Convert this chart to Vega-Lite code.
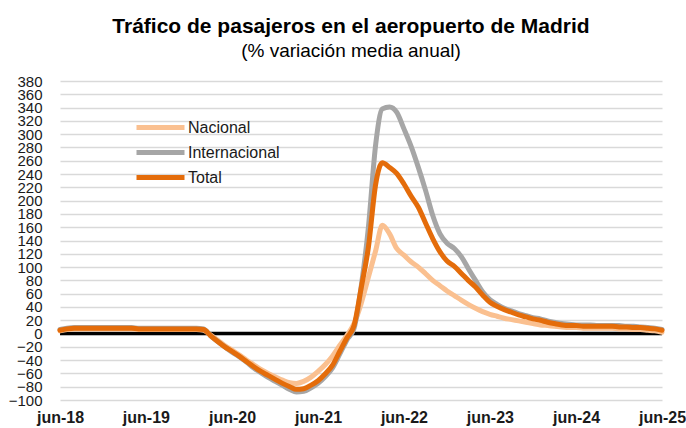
{
  "$schema": "https://vega.github.io/schema/vega-lite/v6.json",
  "width": 602,
  "height": 319,
  "autosize": {"type": "none"},
  "padding": {"left": 60, "top": 81, "right": 24, "bottom": 28},
  "background": "white",
  "title": {
    "text": "Tráfico de pasajeros en el aeropuerto de Madrid",
    "subtitle": "(% variación media anual)",
    "anchor": "middle",
    "frame": "group",
    "font": "Liberation Sans",
    "fontSize": 21,
    "fontWeight": "bold",
    "color": "#000000",
    "subtitleFont": "Liberation Sans",
    "subtitleFontSize": 19,
    "subtitleColor": "#000000",
    "subtitlePadding": 5,
    "dx": -10,
    "offset": 13
  },
  "config": {
    "view": {"stroke": null},
    "font": "Liberation Sans",
    "axisY": {
      "title": null,
      "domain": false,
      "ticks": false,
      "grid": true,
      "gridColor": "#d9d9d9",
      "gridWidth": 1.3,
      "labelPadding": 18,
      "labelFont": "Liberation Sans",
      "labelFontSize": 15,
      "labelColor": "#1a1a1a",
      "labelOverlap": false,
      "labelFlush": false,
      "labelBound": false
    }
  },
  "layer": [
    {
      "data": {"values": [{"z": 0}]},
      "mark": {"type": "rule", "color": "#000000", "strokeWidth": 3.5},
      "encoding": {
        "y": {
          "field": "z",
          "type": "quantitative",
          "scale": {"domain": [-100, 380], "nice": false},
          "axis": {
            "title": null,
            "values": [-100, -80, -60, -40, -20, 0, 20, 40, 60, 80, 100, 120, 140, 160, 180, 200, 220, 240, 260, 280, 300, 320, 340, 360, 380],
            "labelOverlap": false
          }
        }
      }
    },
    {
      "data": {
        "values": [
          {"d": "2018-06-01", "Nacional": 4, "Internacional": 6, "Total": 5},
          {"d": "2018-07-01", "Nacional": 6, "Internacional": 8, "Total": 7},
          {"d": "2018-08-01", "Nacional": 7, "Internacional": 9, "Total": 8},
          {"d": "2018-09-01", "Nacional": 7, "Internacional": 9, "Total": 8},
          {"d": "2018-10-01", "Nacional": 7, "Internacional": 9, "Total": 8},
          {"d": "2018-11-01", "Nacional": 7, "Internacional": 9, "Total": 8},
          {"d": "2018-12-01", "Nacional": 7, "Internacional": 9, "Total": 8},
          {"d": "2019-01-01", "Nacional": 7, "Internacional": 9, "Total": 8},
          {"d": "2019-02-01", "Nacional": 7, "Internacional": 9, "Total": 8},
          {"d": "2019-03-01", "Nacional": 7, "Internacional": 9, "Total": 8},
          {"d": "2019-04-01", "Nacional": 7, "Internacional": 9, "Total": 8},
          {"d": "2019-05-01", "Nacional": 6, "Internacional": 8, "Total": 7},
          {"d": "2019-06-01", "Nacional": 6, "Internacional": 8, "Total": 7},
          {"d": "2019-07-01", "Nacional": 6, "Internacional": 8, "Total": 7},
          {"d": "2019-08-01", "Nacional": 6, "Internacional": 8, "Total": 7},
          {"d": "2019-09-01", "Nacional": 6, "Internacional": 8, "Total": 7},
          {"d": "2019-10-01", "Nacional": 6, "Internacional": 8, "Total": 7},
          {"d": "2019-11-01", "Nacional": 6, "Internacional": 8, "Total": 7},
          {"d": "2019-12-01", "Nacional": 6, "Internacional": 8, "Total": 7},
          {"d": "2020-01-01", "Nacional": 6, "Internacional": 8, "Total": 7},
          {"d": "2020-02-01", "Nacional": 5, "Internacional": 7, "Total": 6},
          {"d": "2020-03-01", "Nacional": -2, "Internacional": -3, "Total": -3},
          {"d": "2020-04-01", "Nacional": -10, "Internacional": -12, "Total": -12},
          {"d": "2020-05-01", "Nacional": -18, "Internacional": -20, "Total": -20},
          {"d": "2020-06-01", "Nacional": -25, "Internacional": -28, "Total": -27},
          {"d": "2020-07-01", "Nacional": -32, "Internacional": -35, "Total": -34},
          {"d": "2020-08-01", "Nacional": -40, "Internacional": -43, "Total": -42},
          {"d": "2020-09-01", "Nacional": -47, "Internacional": -52, "Total": -50},
          {"d": "2020-10-01", "Nacional": -54, "Internacional": -59, "Total": -57},
          {"d": "2020-11-01", "Nacional": -60, "Internacional": -66, "Total": -63},
          {"d": "2020-12-01", "Nacional": -65, "Internacional": -72, "Total": -69},
          {"d": "2021-01-01", "Nacional": -70, "Internacional": -78, "Total": -75},
          {"d": "2021-02-01", "Nacional": -74, "Internacional": -84, "Total": -80},
          {"d": "2021-03-01", "Nacional": -75, "Internacional": -88, "Total": -84},
          {"d": "2021-04-01", "Nacional": -72, "Internacional": -87, "Total": -83},
          {"d": "2021-05-01", "Nacional": -66, "Internacional": -82, "Total": -78},
          {"d": "2021-06-01", "Nacional": -57, "Internacional": -75, "Total": -71},
          {"d": "2021-07-01", "Nacional": -47, "Internacional": -65, "Total": -61},
          {"d": "2021-08-01", "Nacional": -34, "Internacional": -52, "Total": -48},
          {"d": "2021-09-01", "Nacional": -18, "Internacional": -31, "Total": -27},
          {"d": "2021-10-01", "Nacional": -3, "Internacional": -10, "Total": -7},
          {"d": "2021-11-01", "Nacional": 15, "Internacional": 8, "Total": 12},
          {"d": "2021-12-01", "Nacional": 45, "Internacional": 70, "Total": 68},
          {"d": "2022-01-01", "Nacional": 85, "Internacional": 160, "Total": 130},
          {"d": "2022-02-01", "Nacional": 125, "Internacional": 285, "Total": 225},
          {"d": "2022-03-01", "Nacional": 163, "Internacional": 338, "Total": 257},
          {"d": "2022-04-01", "Nacional": 150, "Internacional": 341, "Total": 250},
          {"d": "2022-05-01", "Nacional": 128, "Internacional": 333, "Total": 241},
          {"d": "2022-06-01", "Nacional": 118, "Internacional": 308, "Total": 225},
          {"d": "2022-07-01", "Nacional": 108, "Internacional": 282, "Total": 207},
          {"d": "2022-08-01", "Nacional": 100, "Internacional": 250, "Total": 190},
          {"d": "2022-09-01", "Nacional": 90, "Internacional": 215, "Total": 166},
          {"d": "2022-10-01", "Nacional": 80, "Internacional": 178, "Total": 143},
          {"d": "2022-11-01", "Nacional": 72, "Internacional": 150, "Total": 123},
          {"d": "2022-12-01", "Nacional": 64, "Internacional": 136, "Total": 109},
          {"d": "2023-01-01", "Nacional": 57, "Internacional": 128, "Total": 101},
          {"d": "2023-02-01", "Nacional": 50, "Internacional": 115, "Total": 90},
          {"d": "2023-03-01", "Nacional": 44, "Internacional": 98, "Total": 80},
          {"d": "2023-04-01", "Nacional": 38, "Internacional": 80, "Total": 70},
          {"d": "2023-05-01", "Nacional": 33, "Internacional": 63, "Total": 58},
          {"d": "2023-06-01", "Nacional": 29, "Internacional": 51, "Total": 47},
          {"d": "2023-07-01", "Nacional": 26, "Internacional": 44, "Total": 41},
          {"d": "2023-08-01", "Nacional": 23, "Internacional": 38, "Total": 36},
          {"d": "2023-09-01", "Nacional": 21, "Internacional": 34, "Total": 32},
          {"d": "2023-10-01", "Nacional": 19, "Internacional": 30, "Total": 28},
          {"d": "2023-11-01", "Nacional": 17, "Internacional": 27, "Total": 25},
          {"d": "2023-12-01", "Nacional": 15, "Internacional": 24, "Total": 22},
          {"d": "2024-01-01", "Nacional": 13, "Internacional": 22, "Total": 20},
          {"d": "2024-02-01", "Nacional": 12, "Internacional": 19, "Total": 17},
          {"d": "2024-03-01", "Nacional": 11, "Internacional": 17, "Total": 15},
          {"d": "2024-04-01", "Nacional": 10, "Internacional": 15, "Total": 13},
          {"d": "2024-05-01", "Nacional": 9, "Internacional": 14, "Total": 12},
          {"d": "2024-06-01", "Nacional": 9, "Internacional": 13, "Total": 12},
          {"d": "2024-07-01", "Nacional": 8, "Internacional": 13, "Total": 11},
          {"d": "2024-08-01", "Nacional": 8, "Internacional": 13, "Total": 11},
          {"d": "2024-09-01", "Nacional": 8, "Internacional": 12, "Total": 11},
          {"d": "2024-10-01", "Nacional": 8, "Internacional": 12, "Total": 11},
          {"d": "2024-11-01", "Nacional": 8, "Internacional": 12, "Total": 11},
          {"d": "2024-12-01", "Nacional": 7, "Internacional": 12, "Total": 10},
          {"d": "2025-01-01", "Nacional": 7, "Internacional": 11, "Total": 10},
          {"d": "2025-02-01", "Nacional": 6, "Internacional": 11, "Total": 9},
          {"d": "2025-03-01", "Nacional": 6, "Internacional": 10, "Total": 9},
          {"d": "2025-04-01", "Nacional": 5, "Internacional": 9, "Total": 8},
          {"d": "2025-05-01", "Nacional": 4, "Internacional": 8, "Total": 7},
          {"d": "2025-06-01", "Nacional": 2, "Internacional": 6, "Total": 5}
        ]
      },
      "transform": [
        {"fold": ["Nacional", "Internacional", "Total"], "as": ["serie", "valor"]}
      ],
      "mark": {"type": "line", "interpolate": "monotone", "strokeCap": "round", "strokeJoin": "round"},
      "encoding": {
        "x": {
          "field": "d",
          "type": "temporal",
          "scale": {"type": "utc", "domain": [{"year": 2018, "month": 6, "date": 1, "utc": true}, {"year": 2025, "month": 6, "date": 1, "utc": true}]},
          "axis": {
            "title": null,
            "values": [
              {"year": 2018, "month": 6, "date": 1, "utc": true},
              {"year": 2019, "month": 6, "date": 1, "utc": true},
              {"year": 2020, "month": 6, "date": 1, "utc": true},
              {"year": 2021, "month": 6, "date": 1, "utc": true},
              {"year": 2022, "month": 6, "date": 1, "utc": true},
              {"year": 2023, "month": 6, "date": 1, "utc": true},
              {"year": 2024, "month": 6, "date": 1, "utc": true},
              {"year": 2025, "month": 6, "date": 1, "utc": true}
            ],
            "labelExpr": "lower(utcFormat(datum.value, '%b-%y'))",
            "domain": false,
            "ticks": false,
            "grid": false,
            "labelPadding": 9,
            "labelFont": "Liberation Sans",
            "labelFontSize": 16,
            "labelFontWeight": "bold",
            "labelColor": "#1a1a1a",
            "labelFlush": false,
            "labelOverlap": false
          }
        },
        "y": {
          "field": "valor",
          "type": "quantitative",
          "scale": {"domain": [-100, 380], "nice": false},
          "axis": {
            "title": null,
            "values": [-100, -80, -60, -40, -20, 0, 20, 40, 60, 80, 100, 120, 140, 160, 180, 200, 220, 240, 260, 280, 300, 320, 340, 360, 380],
            "labelOverlap": false
          }
        },
        "color": {
          "field": "serie",
          "type": "nominal",
          "sort": ["Nacional", "Internacional", "Total"],
          "scale": {"domain": ["Nacional", "Internacional", "Total"], "range": ["#FAC090", "#A6A6A6", "#E46C0A"]},
          "legend": {
            "title": null,
            "orient": "none",
            "legendX": 90,
            "legendY": 36,
            "symbolType": "M-3,0H3",
            "symbolSize": 256,
            "symbolStrokeWidth": 6,
            "labelFont": "Liberation Sans",
            "labelFontSize": 16,
            "labelColor": "#1a1a1a",
            "labelOffset": 17,
            "rowPadding": 4
          }
        },
        "strokeWidth": {
          "field": "serie",
          "type": "nominal",
          "scale": {"domain": ["Nacional", "Internacional", "Total"], "range": [5, 5, 6.5]},
          "legend": null
        }
      }
    }
  ]
}
